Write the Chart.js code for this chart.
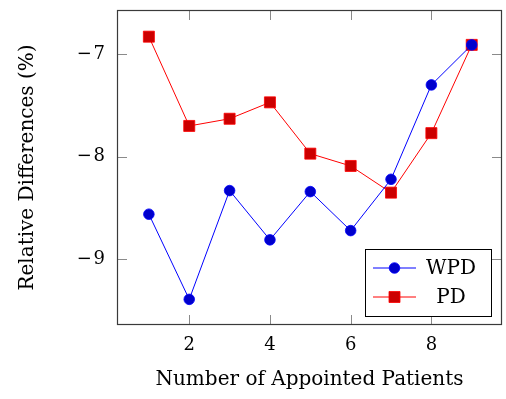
<!DOCTYPE html>
<html>
<head>
<meta charset="utf-8">
<script src="https://cdn.jsdelivr.net/npm/chart.js@4"></script>
<style>
  html, body { margin: 0; padding: 0; background: #fff; }
  #wrap { width: 506px; height: 399px; position: relative; }
</style>
</head>
<body>
<div id="wrap"><canvas id="chart"></canvas></div>
<script>
// Relative differences (%) against the number of appointed patients
const patients = [1, 2, 3, 4, 5, 6, 7, 8, 9];
const wpdValues = [-8.56, -9.39, -8.33, -8.81, -8.34, -8.72, -8.22, -7.30, -6.91];
const pdValues = [-6.83, -7.70, -7.63, -7.47, -7.97, -8.09, -8.35, -7.77, -6.91];
const xTickValues = [2, 4, 6, 8];
const yTickValues = [-9, -8, -7];
const seriesNames = ['WPD', 'PD'];

const SERIF = '"DejaVu Serif", "Liberation Serif", serif';

function toPoints(values) {
  return patients.map((p, i) => ({ x: p, y: values[i] }));
}

// Keep the plot box fixed: no extra room reserved for edge labels
function fixScale(scale, size) {
  if (scale.isHorizontal()) scale.height = size; else scale.width = size;
  scale.paddingTop = 0; scale.paddingBottom = 0;
  scale.paddingLeft = 0; scale.paddingRight = 0;
}

// Inward tick marks on all four sides plus the box frame
const frameTicks = {
  id: 'frameTicks',
  beforeDatasetsDraw(chart) {
    const { ctx, chartArea: a, scales } = chart;
    const len = 10;
    ctx.save();
    ctx.strokeStyle = '#8a8a8a';
    ctx.lineWidth = 1;
    ctx.beginPath();
    xTickValues.forEach(v => {
      const x = Math.round(scales.x.getPixelForValue(v)) + 0.5;
      ctx.moveTo(x, a.bottom); ctx.lineTo(x, a.bottom - len);
      ctx.moveTo(x, a.top); ctx.lineTo(x, a.top + len);
    });
    yTickValues.forEach(v => {
      const y = Math.round(scales.y.getPixelForValue(v)) + 0.5;
      ctx.moveTo(a.left, y); ctx.lineTo(a.left + len, y);
      ctx.moveTo(a.right, y); ctx.lineTo(a.right - len, y);
    });
    ctx.stroke();
    ctx.restore();
  },
  afterDatasetsDraw(chart) {
    const { ctx, chartArea: a } = chart;
    ctx.save();
    ctx.strokeStyle = '#3a3a3a';
    ctx.lineWidth = 1.2;
    ctx.strokeRect(Math.round(a.left) + 0.5, Math.round(a.top) + 0.5,
      Math.round(a.right - a.left) - 1, Math.round(a.bottom - a.top) - 1);
    ctx.restore();
  }
};

// Legend box placed inside the lower right corner of the plot
const insideLegend = {
  id: 'insideLegend',
  afterDraw(chart) {
    const { ctx, chartArea: a } = chart;
    const w = 126, h = 67, rowH = 29;
    const x0 = a.right - 11 - w, y0 = a.bottom - 9 - h;
    ctx.save();
    ctx.fillStyle = '#fff';
    ctx.fillRect(x0, y0, w, h);
    ctx.strokeStyle = '#000';
    ctx.lineWidth = 1;
    ctx.strokeRect(Math.round(x0) + 0.5, Math.round(y0) + 0.5, w, h);
    chart.data.datasets.forEach((ds, i) => {
      const cy = y0 + 19 + i * rowH;
      ctx.strokeStyle = ds.borderColor;
      ctx.lineWidth = ds.borderWidth;
      ctx.beginPath();
      ctx.moveTo(x0 + 8, cy); ctx.lineTo(x0 + 51, cy);
      ctx.stroke();
      ctx.fillStyle = ds.pointBackgroundColor;
      ctx.strokeStyle = ds.pointBorderColor;
      ctx.lineWidth = ds.pointBorderWidth;
      Chart.helpers.drawPoint(ctx, {
        pointStyle: ds.pointStyle, rotation: 0,
        radius: ds.pointRadius, borderWidth: ds.pointBorderWidth
      }, x0 + 29.5, cy);
      ctx.fillStyle = '#000';
      ctx.font = '20px ' + SERIF;
      ctx.textAlign = 'center';
      ctx.textBaseline = 'middle';
      ctx.fillText(ds.label, x0 + 86, cy + 1);
    });
    ctx.restore();
  }
};

new Chart(document.getElementById('chart'), {
  type: 'line',
  data: {
    datasets: [
      {
        label: seriesNames[0],
        data: toPoints(wpdValues),
        borderColor: '#0000ff',
        borderWidth: 1,
        pointStyle: 'circle',
        pointRadius: 5.3,
        pointBackgroundColor: '#0000cc',
        pointBorderColor: '#0000ff',
        pointBorderWidth: 0.8,
        tension: 0
      },
      {
        label: seriesNames[1],
        data: toPoints(pdValues),
        borderColor: '#ff0000',
        borderWidth: 1,
        pointStyle: 'rect',
        pointRadius: 7.8,
        pointBackgroundColor: '#cc0000',
        pointBorderColor: '#ff0000',
        pointBorderWidth: 0.8,
        tension: 0
      }
    ]
  },
  options: {
    responsive: true,
    maintainAspectRatio: false,
    animation: false,
    events: [],
    layout: { autoPadding: false, padding: { top: 10, right: 4, left: 0, bottom: 0 } },
    plugins: {
      legend: { display: false },
      tooltip: { enabled: false }
    },
    scales: {
      x: {
        type: 'linear',
        min: 0.21,
        max: 9.75,
        afterBuildTicks(scale) { scale.ticks = xTickValues.map(v => ({ value: v })); },
        afterFit(scale) { fixScale(scale, 74); },
        grid: { display: false, drawTicks: false },
        border: { display: false },
        ticks: {
          color: '#000',
          padding: 10,
          maxRotation: 0,
          font: { family: SERIF, size: 18 },
          callback: v => String(v)
        },
        title: {
          display: true,
          text: 'Number of Appointed Patients',
          color: '#000',
          font: { family: SERIF, size: 20 },
          padding: { top: 0, bottom: 7 }
        }
      },
      y: {
        type: 'linear',
        min: -9.64,
        max: -6.57,
        afterBuildTicks(scale) { scale.ticks = yTickValues.map(v => ({ value: v })); },
        afterFit(scale) { fixScale(scale, 117); },
        grid: { display: false, drawTicks: false },
        border: { display: false },
        ticks: {
          color: '#000',
          padding: 12,
          font: { family: SERIF, size: 18 },
          callback: v => '\u2212\u200a' + Math.abs(v)
        },
        title: {
          display: true,
          text: 'Relative Differences (%)',
          color: '#000',
          font: { family: SERIF, size: 20 },
          padding: { top: 16, bottom: 0 }
        }
      }
    }
  },
  plugins: [frameTicks, insideLegend]
});
</script>
</body>
</html>
